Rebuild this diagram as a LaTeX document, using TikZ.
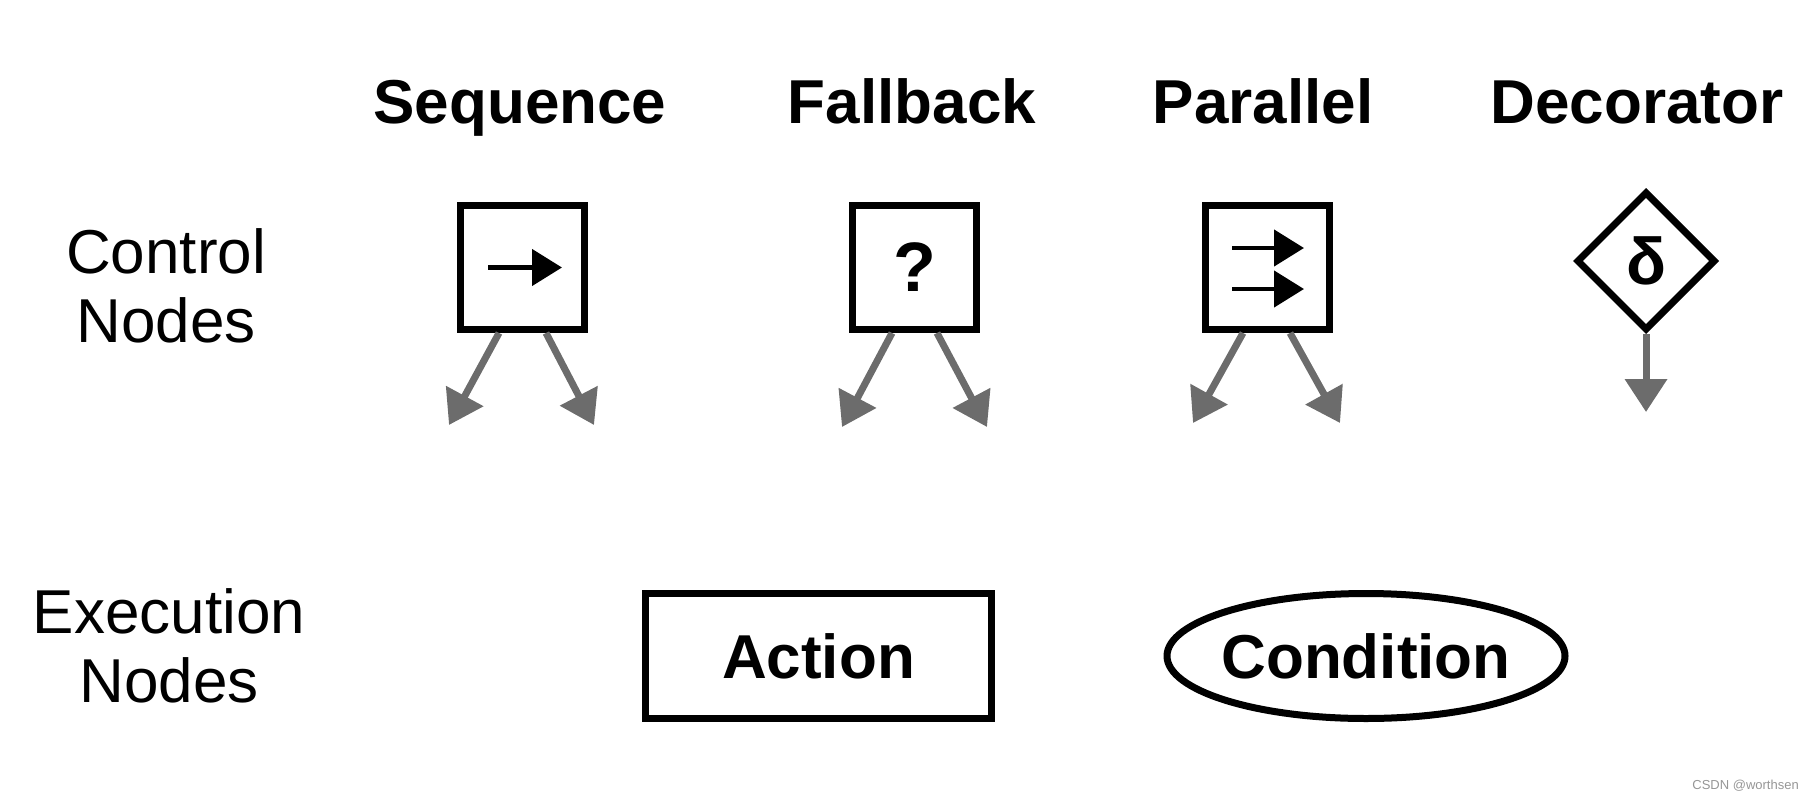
\documentclass[tikz,border=0pt]{standalone}
\usepackage{fontspec}
\setmainfont{Liberation Sans}
\usetikzlibrary{shapes.geometric,arrows.meta}
\definecolor{arrowgray}{RGB}{108,108,108}
\definecolor{markgray}{RGB}{150,150,150}
\tikzset{
  title/.style={anchor=base, inner sep=0, font=\fontsize{62}{69}\selectfont\bfseries},
  rowlabel/.style={anchor=base, inner sep=0, font=\fontsize{62}{69}\selectfont},
  ctrlbox/.style={draw=black, line width=7pt, rectangle, minimum width=124pt, minimum height=124pt, inner sep=0pt},
  decobox/.style={draw=black, line width=7pt, diamond, minimum width=139pt, minimum height=139pt, inner sep=0pt, font=\fontsize{66}{66}\selectfont\bfseries},
  execbox/.style={draw=black, line width=7pt, rectangle, minimum width=346pt, minimum height=125pt, inner sep=0pt, font=\fontsize{62}{69}\selectfont\bfseries},
  condbox/.style={draw=black, line width=7pt, ellipse, minimum width=398pt, minimum height=125pt, inner xsep=-12pt, inner ysep=0pt, font=\fontsize{62}{69}\selectfont\bfseries},
  child/.style={draw=arrowgray, line width=7pt, -{Triangle[length=33pt, width=41pt]}},
  inner/.style={draw=black, line width=4.5pt, -{Triangle[length=30pt, width=36pt]}},
}
\begin{document}
\begin{tikzpicture}[x=1pt, y=-1pt]
\useasboundingbox (0,0) rectangle (1814,800);
% titles
\node[title] (tseq) at (520,123) {Sequence};
\node[title] (tfal) at (912,123) {Fallback};
\node[title] (tpar) at (1263,123) {Parallel};
\node[title] (tdec) at (1637,123) {Decorator};
% row labels
\node[rowlabel] (lctrl) at (166,273) {\begin{tabular}[t]{@{}c@{}}Control\\Nodes\end{tabular}};
\node[rowlabel] (lexec) at (169,633) {\begin{tabular}[t]{@{}c@{}}Execution\\Nodes\end{tabular}};
% control nodes
\node[ctrlbox] (seq) at (522.5,267.5) {};
\node[ctrlbox] (fal) at (914.5,267.5) {\fontsize{70}{70}\selectfont\bfseries ?};
\node[ctrlbox] (par) at (1267,267.5) {};
\node[decobox] (dec) at (1646,261) {δ};
% inner arrows
\draw[inner] ([xshift=-34.5pt]seq.center) -- ([xshift=39.5pt]seq.center);
\draw[inner] ([xshift=-35pt,yshift=19.5pt]par.center) -- ([xshift=37pt,yshift=19.5pt]par.center);
\draw[inner] ([xshift=-35pt,yshift=-21.5pt]par.center) -- ([xshift=37pt,yshift=-21.5pt]par.center);
% child arrow ends
\coordinate (seqL) at (449,425);
\coordinate (seqR) at (594,425);
\coordinate (falL) at (842,427);
\coordinate (falR) at (987,427);
\coordinate (parL) at (1193,423);
\coordinate (parR) at (1340,423);
\coordinate (decD) at (1646,412);
\draw[child] ([xshift=-23.5pt]seq.south) -- (seqL);
\draw[child] ([xshift=23.5pt]seq.south) -- (seqR);
\draw[child] ([xshift=-22.5pt]fal.south) -- (falL);
\draw[child] ([xshift=22.5pt]fal.south) -- (falR);
\draw[child] ([xshift=-24pt]par.south) -- (parL);
\draw[child] ([xshift=23pt]par.south) -- (parR);
\draw[child] (dec.south) -- (decD);
% execution nodes
\node[execbox] (act) at (818.5,656) {Action};
\node[condbox] (cond) at (1366,656) {Condition};
% watermark
\node[anchor=base east, inner sep=0, text=markgray, font=\fontsize{13}{13}\selectfont] (mark) at (1799,789) {CSDN @worthsen};
\end{tikzpicture}
\end{document}
